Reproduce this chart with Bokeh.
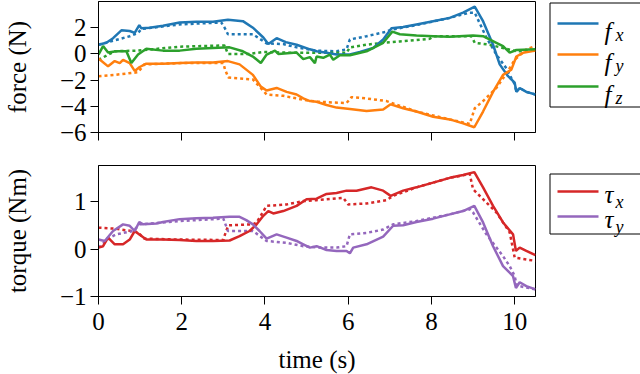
from bokeh.plotting import figure
from bokeh.models import Range1d, FixedTicker
from bokeh.layouts import column, row
from bokeh.core.properties import value
from bokeh.embed import file_html
from bokeh.resources import INLINE

FONT = "Liberation Serif"

# ---------------- data ----------------
fx_t = [0.0, 0.19, 0.35, 0.55, 0.75, 0.87, 0.98, 1.03, 1.23, 1.55, 1.95, 2.35, 2.75, 3.11, 3.47, 3.71, 3.96, 4.08, 4.28, 4.5, 4.76, 5.08, 5.24, 5.48, 5.72, 6.04, 6.28, 6.6, 6.84, 7.04, 7.32, 7.64, 8.04, 8.44, 8.76, 9.04, 9.24, 9.48, 9.64, 9.84, 10.0, 10.04, 10.12, 10.28, 10.5]
fx_v = [0.7, 0.85, 1.2, 1.8, 1.75, 1.6, 2.2, 1.95, 2.0, 2.15, 2.4, 2.45, 2.45, 2.6, 2.5, 2.0, 1.25, 0.75, 1.2, 0.9, 0.7, 0.35, 0.2, 0.08, -0.05, -0.05, 0.15, 0.45, 1.1, 1.95, 2.05, 2.25, 2.5, 2.75, 3.15, 3.6, 2.5, 0.7, -0.8, -1.7, -2.2, -2.9, -2.6, -2.9, -3.1]
fx_ref_t = [0.0, 0.35, 0.75, 0.95, 1.03, 1.95, 2.95, 3.03, 3.11, 3.71, 4.04, 4.44, 4.76, 5.24, 5.72, 5.96, 6.04, 6.44, 6.92, 7.04, 7.64, 8.44, 8.92, 9.04, 9.32, 9.56, 9.8, 9.92, 10.0, 10.04, 10.12, 10.28, 10.5]
fx_ref_v = [0.7, 1.0, 1.35, 1.6, 1.9, 2.25, 2.4, 2.0, 1.5, 1.5, 0.8, 0.75, 0.5, 0.25, 0.2, 0.35, 1.1, 1.35, 1.7, 1.85, 2.2, 2.75, 3.15, 3.15, 1.25, -0.05, -1.1, -1.85, -2.3, -2.9, -2.6, -2.9, -3.1]

fy_t = [0.0, 0.23, 0.39, 0.51, 0.59, 0.75, 0.87, 0.99, 1.15, 1.55, 1.95, 2.35, 2.75, 3.11, 3.39, 3.71, 3.9, 4.04, 4.28, 4.52, 4.76, 4.92, 5.08, 5.24, 5.48, 5.72, 6.04, 6.44, 6.84, 7.02, 7.32, 7.64, 8.04, 8.44, 8.76, 9.03, 9.24, 9.48, 9.72, 9.92, 10.04, 10.2, 10.5]
fy_v = [-0.35, -0.95, -0.55, -0.7, -0.45, -0.7, -1.3, -1.0, -0.75, -0.75, -0.7, -0.65, -0.65, -0.55, -0.8, -1.6, -2.5, -2.8, -2.6, -2.9, -3.1, -3.4, -3.6, -3.65, -3.9, -4.1, -4.2, -4.35, -4.25, -3.85, -4.15, -4.4, -4.8, -5.0, -5.3, -5.6, -4.4, -2.9, -1.6, -1.2, -0.2, 0.08, 0.25]
fy_ref_t = [0.0, 0.39, 0.95, 1.1, 2.0, 3.0, 3.04, 3.12, 3.71, 4.04, 4.44, 4.92, 5.24, 5.96, 6.08, 6.44, 6.92, 7.64, 8.44, 8.92, 9.04, 9.24, 9.56, 9.8, 10.0, 10.28, 10.5]
fy_ref_v = [-1.7, -1.6, -1.4, -0.8, -0.7, -0.7, -1.2, -1.8, -1.95, -3.1, -3.2, -3.5, -3.65, -3.75, -3.3, -3.4, -3.6, -4.4, -5.0, -5.35, -4.15, -3.6, -2.6, -1.5, -0.45, 0.35, 0.6]

fz_t = [0.0, 0.11, 0.23, 0.43, 0.67, 0.79, 0.95, 1.15, 1.55, 1.95, 2.35, 2.75, 3.15, 3.47, 3.71, 3.9, 4.04, 4.24, 4.32, 4.76, 4.92, 5.08, 5.2, 5.24, 5.4, 5.56, 5.64, 5.8, 6.04, 6.44, 6.84, 7.06, 7.24, 7.64, 8.04, 8.44, 9.0, 9.24, 9.56, 9.72, 9.88, 10.04, 10.5]
fz_v = [-0.05, 0.6, 0.1, 0.2, 0.2, -0.7, -0.05, 0.4, 0.25, 0.25, 0.4, 0.45, 0.5, 0.2, -0.2, -0.7, -0.05, 0.25, 0.0, 0.1, -0.4, -0.25, -0.7, -0.2, -0.3, -0.05, -0.45, -0.1, -0.1, 0.2, 0.85, 1.7, 1.5, 1.4, 1.35, 1.3, 1.4, 1.35, 0.85, 0.6, 0.1, 0.3, 0.35]
fz_ref_t = [0.0, 0.39, 0.95, 1.95, 3.03, 3.11, 3.63, 3.96, 4.44, 5.24, 5.96, 6.04, 6.44, 6.84, 7.24, 7.96, 8.04, 8.96, 9.04, 9.4, 9.72, 10.04, 10.5]
fz_ref_v = [-0.45, 0.2, 0.25, 0.55, 0.65, 0.0, 0.0, 0.15, 0.1, 0.08, 0.08, 0.5, 0.7, 0.85, 0.95, 1.15, 1.35, 1.35, 0.85, 0.7, 0.45, 0.2, 0.25]

tx_t = [0.0, 0.11, 0.23, 0.39, 0.59, 0.75, 0.87, 0.99, 1.15, 1.55, 1.95, 2.35, 2.75, 3.15, 3.39, 3.63, 3.8, 3.96, 4.08, 4.2, 4.44, 4.76, 5.0, 5.24, 5.48, 5.72, 5.96, 6.2, 6.56, 6.84, 7.02, 7.32, 7.64, 8.04, 8.44, 8.76, 9.03, 9.24, 9.48, 9.72, 9.96, 10.03, 10.12, 10.28, 10.5]
tx_v = [0.03, 0.06, 0.24, 0.1, 0.1, 0.2, 0.38, 0.3, 0.2, 0.2, 0.19, 0.17, 0.17, 0.18, 0.27, 0.38, 0.52, 0.7, 0.8, 0.75, 0.8, 0.91, 1.05, 1.06, 1.16, 1.18, 1.23, 1.23, 1.3, 1.23, 1.12, 1.23, 1.3, 1.4, 1.5, 1.56, 1.62, 1.3, 0.91, 0.56, 0.31, -0.04, 0.03, -0.04, -0.13]
tx_ref_t = [0.0, 0.39, 0.79, 0.95, 1.1, 1.95, 3.0, 3.04, 3.12, 3.71, 3.8, 4.04, 4.52, 4.92, 5.24, 5.88, 6.0, 6.44, 6.92, 7.08, 7.64, 8.44, 8.92, 9.0, 9.24, 9.56, 9.88, 10.0, 10.5]
tx_ref_v = [0.45, 0.43, 0.38, 0.35, 0.22, 0.2, 0.19, 0.31, 0.5, 0.52, 0.56, 0.91, 0.94, 1.01, 1.03, 1.08, 0.94, 0.96, 1.03, 1.12, 1.3, 1.5, 1.58, 1.26, 1.05, 0.77, 0.35, -0.18, -0.25]

ty_t = [0.0, 0.15, 0.35, 0.59, 0.75, 0.87, 0.98, 1.07, 1.39, 1.55, 1.95, 2.35, 2.75, 3.15, 3.39, 3.55, 3.71, 3.87, 4.04, 4.28, 4.52, 4.76, 4.92, 5.08, 5.24, 5.48, 5.72, 5.96, 6.04, 6.12, 6.44, 6.84, 7.08, 7.32, 7.64, 8.04, 8.44, 8.76, 9.03, 9.24, 9.48, 9.72, 9.96, 10.03, 10.12, 10.28, 10.5]
ty_v = [0.2, 0.17, 0.38, 0.52, 0.49, 0.38, 0.57, 0.52, 0.54, 0.57, 0.63, 0.65, 0.66, 0.68, 0.68, 0.61, 0.52, 0.38, 0.22, 0.31, 0.24, 0.17, 0.1, 0.03, 0.06, -0.02, -0.04, -0.04, -0.09, 0.03, 0.1, 0.26, 0.49, 0.5, 0.57, 0.64, 0.73, 0.8, 0.91, 0.56, 0.06, -0.36, -0.57, -0.82, -0.7, -0.78, -0.85]
ty_ref_t = [0.0, 0.27, 0.43, 0.83, 0.99, 1.95, 3.0, 3.11, 3.71, 4.04, 4.52, 4.92, 5.28, 5.72, 5.96, 6.04, 6.44, 6.84, 7.08, 7.64, 8.44, 8.92, 9.0, 9.32, 9.72, 9.88, 10.0, 10.05, 10.5]
ty_ref_v = [0.03, 0.24, 0.31, 0.38, 0.52, 0.59, 0.64, 0.38, 0.38, 0.17, 0.13, 0.06, 0.03, 0.03, 0.06, 0.31, 0.34, 0.41, 0.52, 0.59, 0.73, 0.84, 0.77, 0.31, -0.15, -0.36, -0.57, -0.77, -0.85]

x_ticks = [0, 2, 4, 6, 8, 10]
force_ticks = [-6, -4, -2, 0, 2]
torque_ticks = [-1, 0, 1]

BLUE, ORANGE, GREEN, RED, PURPLE = "#1f77b4", "#ff7f0e", "#2ca02c", "#d62728", "#9467bd"

force_series = [(fx_t, fx_v, fx_ref_t, fx_ref_v, BLUE),
                (fy_t, fy_v, fy_ref_t, fy_ref_v, ORANGE),
                (fz_t, fz_v, fz_ref_t, fz_ref_v, GREEN)]
torque_series = [(tx_t, tx_v, tx_ref_t, tx_ref_v, RED),
                 (ty_t, ty_v, ty_ref_t, ty_ref_v, PURPLE)]


def label_text(v):
    return ("\u2212" + str(abs(v))) if v < 0 else str(v)


def style(p, yticks, ylabel, xlabel=None, show_x_labels=True):
    p.grid.visible = False
    p.outline_line_color = "black"
    p.outline_line_width = 1
    p.background_fill_color = "white"
    p.border_fill_color = "white"
    for ax in (p.xaxis[0], p.yaxis[0]):
        ax.axis_line_color = "black"
        ax.major_tick_line_color = "black"
        ax.major_tick_out = 8
        ax.major_tick_in = 0
        ax.minor_tick_line_color = None
        ax.major_label_text_font = FONT
        ax.major_label_text_font_size = "25px"
        ax.major_label_text_color = "black"
        ax.major_label_standoff = 4
        ax.axis_label_text_font = FONT
        ax.axis_label_text_font_size = "25px"
        ax.axis_label_text_font_style = "normal"
        ax.axis_label_text_color = "black"
    p.xaxis[0].ticker = FixedTicker(ticks=x_ticks)
    if show_x_labels:
        p.xaxis[0].major_label_overrides = {t: label_text(t) for t in x_ticks}
    else:
        p.xaxis[0].major_label_overrides = {t: "" for t in x_ticks}
    p.yaxis[0].ticker = FixedTicker(ticks=yticks)
    p.yaxis[0].major_label_overrides = {t: label_text(t) for t in yticks}
    p.yaxis[0].axis_label = ylabel
    p.yaxis[0].axis_label_standoff = 26
    if xlabel:
        p.xaxis[0].major_label_standoff = 8
        p.xaxis[0].axis_label = xlabel
        p.xaxis[0].axis_label_standoff = 13


def draw(p, series):
    for t, v, rt, rv, c in series:
        p.line(rt, rv, line_color=c, line_width=2.5, line_dash="3 3")
    for t, v, rt, rv, c in series:
        p.line(t, v, line_color=c, line_width=2.5)


p1 = figure(frame_width=437, frame_height=131, x_range=Range1d(0, 10.5), y_range=Range1d(-6, 4),
            min_border_left=96, min_border_right=13, min_border_top=1, min_border_bottom=25,
            toolbar_location=None, output_backend="svg", title=None)
style(p1, force_ticks, "force (N)", show_x_labels=False)
draw(p1, force_series)

p2 = figure(frame_width=437, frame_height=131, x_range=Range1d(0, 10.5), y_range=Range1d(-1, 1.76),
            min_border_left=96, min_border_right=13, min_border_top=8, min_border_bottom=70,
            toolbar_location=None, output_backend="svg", title=None)
style(p2, torque_ticks, "torque (Nm)", xlabel="time (s)")
draw(p2, torque_series)


def legend_fig(symbols, subs, colors, ys, box_top, box_bottom, fig_h, base_dy, sub_dy):
    lf = figure(frame_width=94, frame_height=fig_h, x_range=Range1d(0, 94), y_range=Range1d(fig_h, 0),
                min_border_left=0, min_border_right=0, min_border_top=0, min_border_bottom=0,
                x_axis_type=None, y_axis_type=None, toolbar_location=None, output_backend="svg",
                title=None)
    lf.grid.visible = False
    lf.outline_line_color = None
    lf.border_fill_color = "white"
    lf.quad(left=[1.5], right=[92.5], top=[box_top], bottom=[box_bottom],
            fill_color=None, line_color="black", line_width=1)
    for s, sub, c, y in zip(symbols, subs, colors, ys):
        lf.line([9, 50], [y, y], line_color=c, line_width=2.5)
        lf.text(x=[56], y=[y + base_dy], text=[s], text_font=value(FONT), text_font_style="italic",
                text_font_size="25px", text_baseline="alphabetic", text_color="black")
        lf.text(x=[67], y=[y + sub_dy], text=[sub], text_font=value(FONT), text_font_style="italic",
                text_font_size="18px", text_baseline="alphabetic", text_color="black")
    return lf


leg1 = legend_fig(["f", "f", "f"], ["x", "y", "z"], [BLUE, ORANGE, GREEN], [22, 53, 85],
                  1.5, 105.5, 157, 8, 11)
leg2 = legend_fig(["\u03c4", "\u03c4"], ["x", "y"], [RED, PURPLE], [26, 51],
                  8.5, 68.5, 217, 3, 10)

layout = column(row(p1, leg1), row(p2, leg2))
open("out.html", "w").write(file_html(layout, INLINE))
